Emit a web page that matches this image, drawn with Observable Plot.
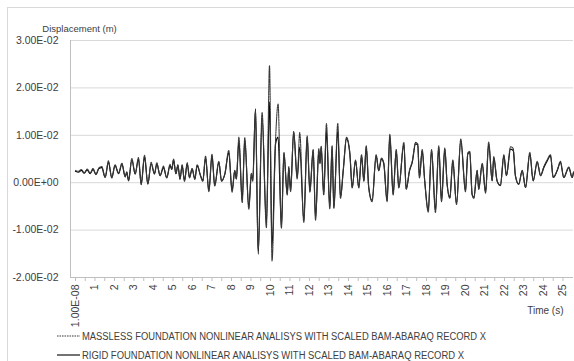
<!DOCTYPE html>
<html>
<head>
<meta charset="utf-8">
<script src="https://cdn.jsdelivr.net/npm/d3@7"></script>
<script src="https://cdn.jsdelivr.net/npm/@observablehq/plot@0.6"></script>
<style>
  html, body { margin: 0; padding: 0; background: #fff; overflow: hidden; }
  #wrap { position: relative; width: 574px; height: 361px; }
  #border { position: absolute; left: 7px; top: 7px; width: 620px; height: 420px; border: 1px solid #d9d9d9; pointer-events: none; }
  #chart svg, #legend svg { display: block; }
</style>
</head>
<body>
<div id="wrap">
  <div id="chart"></div>
  <div id="legend"></div>
  <div id="border"></div>
</div>
<script>
// Time (s)
const times = [0.00,0.15,0.30,0.45,0.60,0.75,0.90,1.05,1.20,1.35,1.52,1.69,1.86,2.03,2.21,2.38,2.55,2.63,2.72,2.89,3.06,3.23,3.37,3.54,3.71,3.88,4.05,4.17,4.34,4.51,4.68,4.85,4.94,5.03,5.15,5.25,5.36,5.47,5.59,5.73,5.85,5.98,6.12,6.24,6.41,6.53,6.67,6.84,7.00,7.14,7.35,7.49,7.66,7.86,8.03,8.17,8.25,8.38,8.55,8.68,8.89,9.02,9.09,9.23,9.37,9.57,9.79,9.95,10.08,10.26,10.39,10.56,10.69,10.86,10.94,11.03,11.19,11.37,11.50,11.71,11.88,12.02,12.19,12.31,12.48,12.54,12.60,12.73,12.87,13.04,13.16,13.25,13.45,13.59,13.73,13.90,14.07,14.19,14.36,14.53,14.67,14.79,14.91,15.04,15.21,15.42,15.55,15.69,15.81,15.98,16.12,16.29,16.45,16.58,16.84,16.96,17.13,17.27,17.44,17.55,17.64,17.78,17.91,18.09,18.26,18.46,18.63,18.77,18.94,19.06,19.20,19.35,19.54,19.76,20.00,20.12,20.22,20.34,20.43,20.60,20.68,20.86,21.03,21.19,21.37,21.45,21.62,21.79,21.97,22.10,22.31,22.45,22.56,22.73,22.91,23.08,23.30,23.47,23.68,23.85,24.02,24.19,24.36,24.50,24.70,24.87,25.04,25.30,25.47,25.54];
// Displacement, in mm (x 1e-3 m)
const rigidMM = [2.4,2.2,2.6,2.0,2.7,1.9,2.8,1.7,3.0,3.2,1.1,4.3,1.1,3.6,1.9,3.9,1.3,2.2,0.4,4.8,1.9,5.0,-0.3,5.5,-0.3,4.0,1.9,3.9,1.5,3.2,1.1,3.6,2.8,4.8,1.9,3.6,0.8,3.6,0.4,4.0,1.1,2.9,0.8,3.6,1.5,0.4,5.3,-1.7,5.7,-0.6,4.3,0.4,1.8,6.4,-1.7,2.5,0.8,8.8,-3.8,9.0,-5.2,1.8,0.5,15.6,-15.1,13.8,-8.7,17.0,-13.7,8.2,9.6,-9.4,6.1,-2.4,3.2,-1.7,10.6,1.1,7.5,-8.0,9.6,-1.7,6.8,-7.6,6.8,4.0,7.5,-2.4,11.0,-5.2,7.5,-5.2,11.0,-3.1,2.5,9.3,6.1,-1.0,4.6,-1.0,5.7,0.4,7.5,-1.0,-3.8,5.7,2.5,5.0,4.0,-3.8,9.9,-2.4,6.8,-1.0,8.2,-1.3,2.5,4.3,8.2,8.0,1.1,6.8,0.4,-5.9,6.8,-5.9,7.5,-3.8,7.1,-0.3,-3.1,4.6,-4.4,8.9,-1.7,6.1,6.4,-2.4,-3.1,2.5,-1.3,3.9,-2.0,8.2,0.4,5.3,0.4,-0.6,5.7,1.5,7.1,6.8,1.5,-0.3,2.5,-1.0,6.1,0.4,4.3,1.5,3.2,4.6,5.7,1.1,2.5,4.3,1.1,3.2,1.1,2.2];
const masslessMM = [2.6,2.4,2.8,2.1,2.9,2.0,3.0,1.8,3.1,3.4,1.2,4.6,1.0,3.8,2.0,4.1,1.2,2.3,0.5,5.1,1.8,5.3,-0.4,5.8,-0.2,4.3,1.8,4.2,1.5,3.5,1.0,3.9,2.9,5.0,1.9,3.8,0.7,3.8,0.3,4.2,1.0,3.0,0.7,3.8,1.5,0.3,5.6,-1.9,6.0,-0.7,4.5,0.3,1.9,6.8,-2.0,2.6,0.8,9.6,-4.2,9.5,-5.6,2.0,0.3,15.0,-14.0,14.8,-9.5,24.7,-16.5,9.0,16.6,-9.6,6.4,-2.6,3.4,-1.9,10.8,0.8,10.6,-8.4,9.9,-2.0,7.0,-7.9,7.2,4.2,7.7,-2.6,12.5,-5.5,7.8,-5.4,12.5,-3.3,2.6,9.6,6.3,-1.1,4.8,-1.1,5.9,0.3,7.8,-1.2,-4.0,5.9,2.6,5.2,4.2,-4.0,10.2,-2.6,7.0,-1.1,8.5,-1.4,2.6,4.5,8.5,8.2,1.0,7.0,0.3,-6.2,7.0,-6.3,7.8,-4.0,7.3,-0.4,-3.3,4.8,-4.6,9.2,-1.9,6.3,6.6,-2.5,-3.3,2.6,-1.4,4.1,-2.2,8.6,0.4,5.5,0.4,-0.6,5.9,1.5,7.6,7.2,1.5,-0.3,2.6,-1.0,6.4,0.4,4.5,1.5,3.4,4.8,5.9,1.1,2.6,4.5,1.1,3.3,1.1,2.3];

const yTicks = [-0.02, -0.01, 0, 0.01, 0.02, 0.03];
const xLabelTicks = d3.range(0, 26);
const xTickLabels = ["1.00E-08","1","2","3","4","5","6","7","8","9","10","11","12","13","14","15","16","17","18","19","20","21","22","23","24","25"];
const xMinorTicks = d3.range(0, 51).map(i => i / 2);
const seriesNames = [
  "MASSLESS FOUNDATION NONLINEAR ANALISYS WITH SCALED BAM-ABARAQ RECORD X",
  "RIGID FOUNDATION NONLINEAR ANALISYS WITH SCALED BAM-ABARAQ RECORD X"
];

const rows = times.map((t, i) => ({t, rigid: rigidMM[i] / 1000, massless: masslessMM[i] / 1000}));

function sci(d) {
  if (d === 0) return "0.00E+00";
  const [m, e] = d.toExponential(2).split("e");
  const n = +e;
  return m + "E" + (n < 0 ? "-" : "+") + String(Math.abs(n)).padStart(2, "0");
}

const font = "'Liberation Sans', Arial, sans-serif";
const txt = "#404040";
const axisGray = "#bfbfbf";

const chart = Plot.plot({
  width: 574,
  height: 327,
  marginLeft: 70,
  marginRight: 1,
  marginTop: 40,
  marginBottom: 50,
  style: {fontFamily: font, fontSize: "10.5px", color: txt, background: "transparent", overflow: "visible"},
  x: {domain: [-0.256, 25.54]},
  y: {domain: [-0.02, 0.03]},
  marks: [
    Plot.gridY(yTicks, {stroke: "#d9d9d9", strokeOpacity: 1, strokeWidth: 1}),
    Plot.axisY(yTicks, {tickFormat: sci, tickSize: 0, tickPadding: 12, label: null, fill: txt, fontSize: 10.5}),
    Plot.axisX(xMinorTicks, {tickSize: 4, tickFormat: () => "", label: null, stroke: axisGray}),
    Plot.axisX(xLabelTicks, {tickSize: 0, tickPadding: 7, tickRotate: -90, tickFormat: (d, i) => xTickLabels[i], label: null, fill: txt, fontSize: 10.5}),
    Plot.ruleY([-0.02], {stroke: axisGray}),
    Plot.ruleX([-0.256], {stroke: axisGray}),
    Plot.line(rows, {x: "t", y: "rigid", stroke: "#000", strokeWidth: 1.2, curve: "monotone-x"}),
    Plot.line(rows, {x: "t", y: "massless", stroke: "#3a3a3a", strokeWidth: 1.1, strokeDasharray: "1.6,0.9", curve: "monotone-x"}),
    Plot.text(["Displacement (m)"], {frameAnchor: "top-left", dx: 9, dy: -15, textAnchor: "middle", fontSize: 9.5, fill: txt}),
    Plot.text(["Time (s)"], {frameAnchor: "bottom-right", dx: -10, dy: 36, textAnchor: "end", fontSize: 10, fill: txt})
  ]
});
document.getElementById("chart").appendChild(chart);

// Legend (below the SVG)
const lg = d3.select("#legend").append("svg").attr("width", 574).attr("height", 34);
const legendItems = [
  {name: seriesNames[0], dash: "1.6,0.9", stroke: "#3a3a3a", len: 404},
  {name: seriesNames[1], dash: null, stroke: "#000", len: 382}
];
legendItems.forEach((it, i) => {
  const cy = 9 + i * 19;
  lg.append("line").attr("x1", 57).attr("x2", 80).attr("y1", cy).attr("y2", cy)
    .attr("stroke", it.stroke).attr("stroke-width", 1.1).attr("stroke-dasharray", it.dash);
  lg.append("text").attr("x", 82).attr("y", cy).attr("dy", "0.36em")
    .attr("font-family", font).attr("font-size", 10).attr("fill", txt)
    .attr("textLength", it.len).attr("lengthAdjust", "spacingAndGlyphs")
    .text(it.name);
});
</script>
</body>
</html>
